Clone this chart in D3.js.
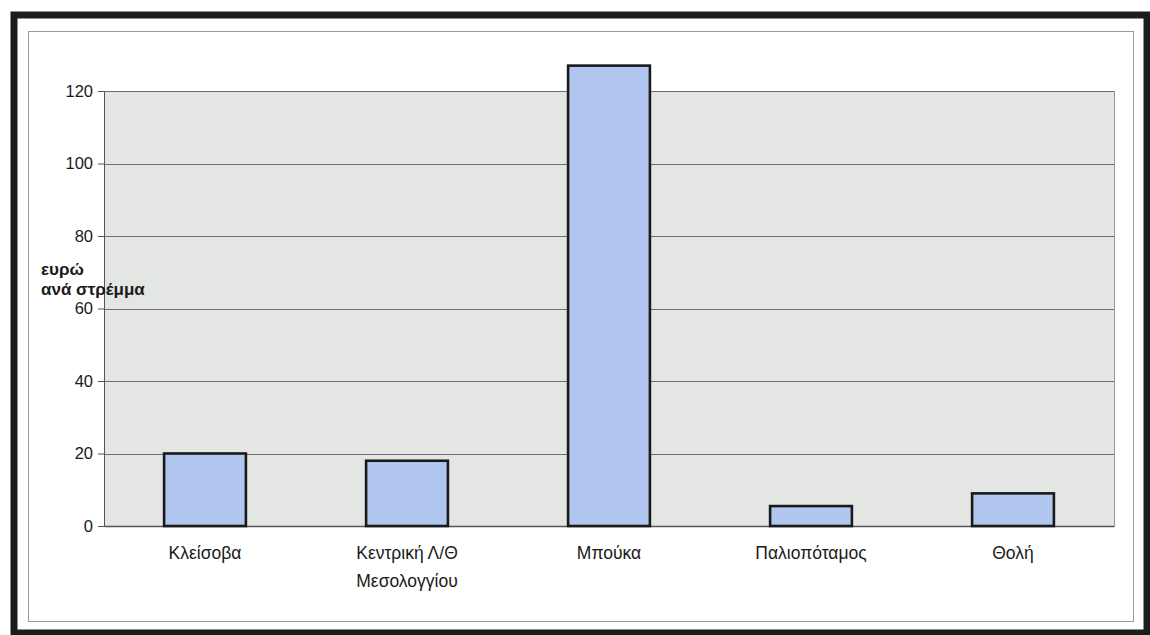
<!DOCTYPE html>
<html>
<head>
<meta charset="utf-8">
<script src="https://cdn.jsdelivr.net/npm/d3@7"></script>
<style>
  html, body { margin: 0; padding: 0; background: #ffffff; }
  svg { display: block; }
  text { font-family: "Liberation Sans", Arial, sans-serif; fill: #1a1a1a; }
</style>
</head>
<body>
<svg id="chart" width="1150" height="635"></svg>
<script>
// Wetland sites and their value in euro per stremma
const categories = ["Κλείσοβα", "Κεντρική Λ/Θ\nΜεσολογγίου", "Μπούκα", "Παλιοπόταμος", "Θολή"];
const values = [20, 18, 127, 5.5, 9];
const yTicks = [0, 20, 40, 60, 80, 100, 120];
const yTitle = ["ευρώ", "ανά στρέμμα"];

const svg = d3.select("#chart");

// Outer heavy frame and inner thin border
svg.append("rect").attr("x", 14).attr("y", 15).attr("width", 1133).attr("height", 618)
  .attr("fill", "#ffffff").attr("stroke", "#1c1c1c").attr("stroke-width", 7);
svg.append("rect").attr("x", 28.5).attr("y", 31.5).attr("width", 1105).attr("height", 590)
  .attr("fill", "none").attr("stroke", "#9a9a9a").attr("stroke-width", 1);

const plot = { left: 104, right: 1114, top: 91, bottom: 526 };

const x = d3.scaleBand().domain(categories)
  .range([plot.left, plot.right]).paddingInner(0.595).paddingOuter(0.2975);
const y = d3.scaleLinear().domain([0, 120]).range([plot.bottom, plot.top]);

// Plot area background
svg.append("rect").attr("x", plot.left).attr("y", plot.top)
  .attr("width", plot.right - plot.left).attr("height", plot.bottom - plot.top)
  .attr("fill", "#e4e6e3");

// Horizontal gridlines
svg.append("g").selectAll("line").data(yTicks.filter(d => d > 0)).join("line")
  .attr("x1", plot.left).attr("x2", plot.right)
  .attr("y1", d => Math.round(y(d)) + 0.5).attr("y2", d => Math.round(y(d)) + 0.5)
  .attr("stroke", "#6e6e6e").attr("stroke-width", 1);

// Plot-area right edge
svg.append("line").attr("x1", plot.right + 0.5).attr("x2", plot.right + 0.5)
  .attr("y1", plot.top).attr("y2", plot.bottom).attr("stroke", "#9a9a9a");

// Y axis
const yAxis = svg.append("g").attr("transform", `translate(${plot.left},0)`)
  .call(d3.axisLeft(y).tickValues(yTicks).tickSize(6).tickPadding(5));
yAxis.select(".domain").attr("stroke", "#555");
yAxis.selectAll(".tick line").attr("stroke", "#555");
yAxis.selectAll(".tick text").attr("font-size", 16.5).attr("fill", "#1a1a1a")
  .style("font-family", "'Liberation Sans', Arial, sans-serif");

// X axis baseline
const xAxis = svg.append("g").attr("transform", `translate(0,${plot.bottom})`)
  .call(d3.axisBottom(x).tickSize(0).tickFormat(""));
xAxis.select(".domain").attr("stroke", "#555").attr("stroke-width", 1.5);

// Bars
svg.append("g").selectAll("rect").data(values).join("rect")
  .attr("x", (d, i) => x(categories[i]))
  .attr("width", x.bandwidth())
  .attr("y", d => y(d))
  .attr("height", d => y(0) - y(d))
  .attr("fill", "#b1c7ef")
  .attr("stroke", "#1a1a1a").attr("stroke-width", 2.6);

// Category labels
const labels = svg.append("g").selectAll("text").data(categories).join("text")
  .attr("text-anchor", "middle")
  .attr("font-size", 17.5)
  .attr("x", d => x(d) + x.bandwidth() / 2)
  .attr("y", 559);
labels.each(function(d) {
  const lines = d.split("\n");
  d3.select(this).selectAll("tspan").data(lines).join("tspan")
    .attr("x", x(d) + x.bandwidth() / 2)
    .attr("dy", (l, i) => i === 0 ? 0 : 28)
    .text(l => l);
});

// Y axis title
svg.append("text").attr("x", 41).attr("y", 275)
  .attr("font-size", 17).attr("font-weight", "bold")
  .selectAll("tspan").data(yTitle).join("tspan")
  .attr("x", 41).attr("dy", (d, i) => i === 0 ? 0 : 20).text(d => d);
</script>
</body>
</html>
